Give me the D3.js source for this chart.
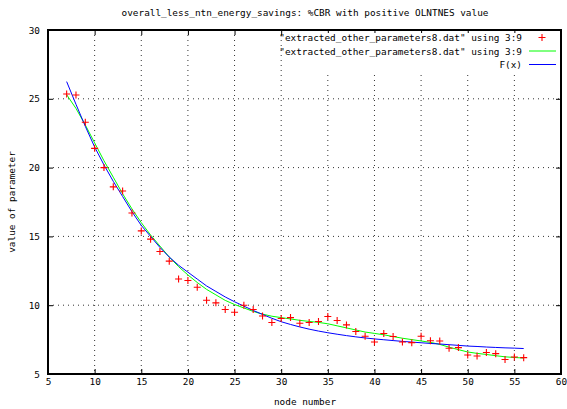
<!DOCTYPE html>
<html>
<head>
<meta charset="utf-8">
<script src="https://cdn.jsdelivr.net/npm/d3@7"></script>
<style>
  body { margin: 0; background: #fff; }
  text { font-family: "DejaVu Sans Mono", monospace; font-size: 9.4px; fill: #000; }
</style>
</head>
<body>
<div id="chart"></div>
<script>
var width = 567;
var height = 409;
var margin = { top: 30, right: 6, bottom: 35, left: 48 };

// node numbers (column 3) and parameter values (column 9)
var nodes = [7, 8, 9, 10, 11, 12, 13, 14, 15, 16, 17, 18, 19, 20, 21, 22, 23, 24, 25, 26,
  27, 28, 29, 30, 31, 32, 33, 34, 35, 36, 37, 38, 39, 40, 41, 42, 43, 44, 45, 46,
  47, 48, 49, 50, 51, 52, 53, 54, 55, 56];
var pointValues = [25.35, 25.28, 23.3, 21.4, 20.0, 18.6, 18.3, 16.7, 15.4, 14.8,
  13.9, 13.2, 11.9, 11.8, 11.3, 10.36, 10.17, 9.69, 9.49, 10.0,
  9.69, 9.22, 8.74, 9.03, 9.1, 8.69, 8.74, 8.81, 9.18, 8.89,
  8.57, 8.09, 7.74, 7.33, 7.94, 7.72, 7.33, 7.28, 7.74, 7.42,
  7.4, 6.87, 6.92, 6.38, 6.31, 6.56, 6.48, 6.05, 6.24, 6.19];
// smoothed curve through the same data (green)
var smoothValues = [25.3, 24.3, 23.1, 21.8, 20.5, 19.3, 18.1, 17.0, 16.0, 15.1,
  14.3, 13.5, 12.8, 12.2, 11.65, 11.15, 10.75, 10.35, 10.05, 9.8,
  9.55, 9.35, 9.2, 9.1, 9.0, 8.9, 8.82, 8.75, 8.65, 8.5,
  8.35, 8.2, 8.05, 7.95, 7.85, 7.72, 7.6, 7.5, 7.4, 7.3,
  7.15, 6.95, 6.77, 6.6, 6.5, 6.42, 6.33, 6.25, 6.2, 6.16];
// fitted function F(x) (blue)
var fitValues = [26.25, 24.6, 23.0, 21.5, 20.2, 19.0, 17.9, 16.8, 15.8, 15.0,
  14.2, 13.5, 12.9, 12.4, 11.9, 11.4, 11.0, 10.6, 10.25, 9.93,
  9.62, 9.33, 9.05, 8.8, 8.6, 8.42, 8.26, 8.12, 8.0, 7.89,
  7.79, 7.7, 7.62, 7.55, 7.49, 7.43, 7.37, 7.32, 7.27, 7.22,
  7.18, 7.13, 7.08, 7.03, 7.0, 6.96, 6.93, 6.9, 6.88, 6.85];

var xTicks = [5, 10, 15, 20, 25, 30, 35, 40, 45, 50, 55, 60];
var yTicks = [5, 10, 15, 20, 25, 30];
var legendLabels = ['"extracted_other_parameters8.dat" using 3:9',
  '"extracted_other_parameters8.dat" using 3:9', 'F(x)'];

var innerW = width - margin.left - margin.right;
var innerH = height - margin.top - margin.bottom;

var svg = d3.select("#chart").append("svg")
  .attr("width", width)
  .attr("height", height);

var g = svg.append("g")
  .attr("transform", "translate(" + margin.left + "," + margin.top + ")");

var x = d3.scaleLinear().domain([5, 60]).range([0, innerW]);
var y = d3.scaleLinear().domain([5, 30]).range([innerH, 0]);

// dotted grid on the inner ticks only
var gridX = xTicks.filter(function(d){ return d > 5 && d < 60; });
var gridY = yTicks.filter(function(d){ return d > 5 && d < 30; });
g.selectAll(".gx").data(gridX).enter().append("line")
  .attr("x1", function(d){ return x(d); }).attr("x2", function(d){ return x(d); })
  .attr("y1", 0).attr("y2", innerH)
  .style("stroke", "#333").style("stroke-dasharray", "1,4");
g.selectAll(".gy").data(gridY).enter().append("line")
  .attr("y1", function(d){ return y(d); }).attr("y2", function(d){ return y(d); })
  .attr("x1", 0).attr("x2", innerW)
  .style("stroke", "#333").style("stroke-dasharray", "1,4");

// key box hides the grid behind it
svg.append("rect").attr("x", 283).attr("y", 33).attr("width", 275).attr("height", 38)
  .style("fill", "#fff");

// axes, ticks pointing inwards, mirrored on top/right
function styleAxis(sel) {
  sel.select(".domain").remove();
  sel.selectAll("line").style("stroke", "#000");
}
g.append("g").attr("transform", "translate(0," + innerH + ")")
  .call(d3.axisBottom(x).tickValues(xTicks).tickSize(-5).tickPadding(4).tickFormat(d3.format("d")))
  .call(styleAxis)
  .selectAll("text").style("font-family", "DejaVu Sans Mono").style("font-size", "9.4px");
g.append("g")
  .call(d3.axisTop(x).tickValues(xTicks).tickSize(-5).tickFormat(""))
  .call(styleAxis);
g.append("g")
  .call(d3.axisLeft(y).tickValues(yTicks).tickSize(-5).tickPadding(8).tickFormat(d3.format("d")))
  .call(styleAxis)
  .selectAll("text").style("font-family", "DejaVu Sans Mono").style("font-size", "9.4px");
g.append("g").attr("transform", "translate(" + innerW + ",0)")
  .call(d3.axisRight(y).tickValues(yTicks).tickSize(-5).tickFormat(""))
  .call(styleAxis);

g.append("rect")
  .attr("width", innerW).attr("height", innerH)
  .style("fill", "none").style("stroke", "#000").style("stroke-width", 2);

// curves
var line = function(vals) {
  return d3.line()
    .x(function(d, i){ return x(nodes[i]); })
    .y(function(d){ return y(d); })(vals);
};
g.append("path").attr("d", line(smoothValues))
  .style("fill", "none").style("stroke", "#00ff00").style("stroke-width", 1);
g.append("path").attr("d", line(fitValues))
  .style("fill", "none").style("stroke", "#0000ff").style("stroke-width", 1);

// data points as "+"
g.selectAll(".pt").data(pointValues).enter().append("path")
  .attr("transform", function(d, i){ return "translate(" + x(nodes[i]) + "," + y(d) + ")"; })
  .attr("d", "M-3.5,0H3.5M0,-3.5V3.5")
  .style("stroke", "#ff0000").style("stroke-width", 1.1);

// legend
var legend = svg.append("g");
legendLabels.forEach(function(t, i) {
  var ly = 41 + i * 13.5;
  legend.append("text").attr("x", 522).attr("y", ly)
    .attr("text-anchor", "end").text(t);
  if (i === 0) {
    legend.append("path").attr("d", "M538.5," + (ly - 3.5) + "h7M542," + (ly - 7) + "v7")
      .style("stroke", "#ff0000").style("stroke-width", 1.1);
  } else {
    legend.append("line").attr("x1", 529).attr("x2", 556)
      .attr("y1", ly - 3.5).attr("y2", ly - 3.5)
      .style("stroke", i === 1 ? "#00ff00" : "#0000ff").style("stroke-width", 1);
  }
});

// titles
svg.append("text").attr("x", 305).attr("y", 16).attr("text-anchor", "middle")
  .text("overall_less_ntn_energy_savings: %CBR with positive OLNTNES value");
svg.append("text").attr("x", 305).attr("y", 405).attr("text-anchor", "middle")
  .text("node number");
svg.append("text").attr("transform", "translate(15," + (margin.top + innerH / 2) + ") rotate(-90)")
  .attr("text-anchor", "middle").text("value of parameter");
</script>
</body>
</html>
